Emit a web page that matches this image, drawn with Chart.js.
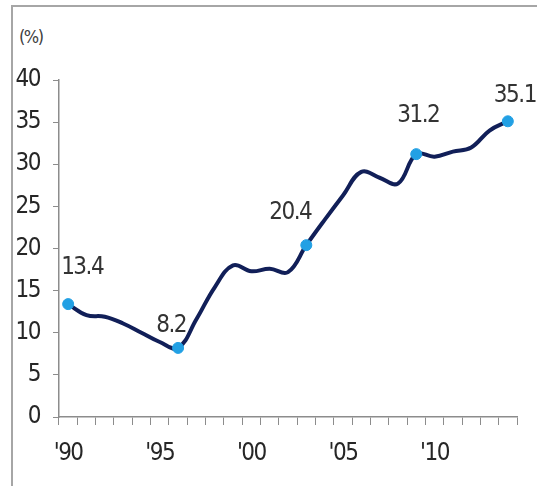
<!DOCTYPE html>
<html>
<head>
<meta charset="utf-8">
<script src="https://cdn.jsdelivr.net/npm/chart.js@4"></script>
<style>
  body { margin: 0; background: #fff; }
  #wrap { position: relative; width: 537px; height: 486px; overflow: hidden; }
  #frame { position: absolute; left: 11px; top: 5px; right: -5px; bottom: -5px;
           border-top: 2px solid #a6a6a6; border-left: 2px solid #a6a6a6; }
  #unit { position: absolute; left: 19px; top: 26px; font: 18px "DejaVu Sans Condensed", sans-serif;
          letter-spacing: -1.5px; color: #404040; line-height: 22px; }
  #chart { position: absolute; left: 0; top: 0; }
</style>
</head>
<body>
<div id="wrap">
  <div id="frame"></div>
  <div id="unit">(%)</div>
  <canvas id="chart" width="537" height="486"></canvas>
</div>
<script>
// yearly share, 1990-2014
let years = [];
for (let y = 1990; y <= 2014; y++) years.push(y);
let shares = [13.4, 12.1, 11.9, 11.1, 10.0, 8.9, 8.2, 11.6, 15.4, 18.0, 17.3, 17.6, 17.2,
              20.4, 23.4, 26.3, 29.1, 28.4, 27.7, 31.2, 30.9, 31.5, 32.0, 34.0, 35.1];
let labelled = [0, 6, 13, 19, 24];
let yTicks = [0, 5, 10, 15, 20, 25, 30, 35, 40];

// nudges for the value labels (dx, dy in px)
let labelNudge = {0: [14, -36], 6: [-7, -22], 13: [-16, -32], 19: [2, -38], 24: [7, -26]};

let font = '"DejaVu Sans Condensed", "Liberation Sans", sans-serif';

// tighter spacing so the condensed face reads narrow
let tightText = {
    id: 'tightText',
    beforeDraw(chart) { chart.ctx.letterSpacing = '-1.5px'; }
};

let valueLabels = {
    id: 'valueLabels',
    afterDatasetsDraw(chart) {
        let ctx = chart.ctx;
        let meta = chart.getDatasetMeta(0);
        ctx.save();
        ctx.font = '24px ' + font;
        ctx.fillStyle = '#333333';
        ctx.textAlign = 'center';
        ctx.textBaseline = 'middle';
        labelled.forEach(i => {
            let p = meta.data[i];
            let n = labelNudge[i];
            ctx.fillText(shares[i].toFixed(1), p.x + n[0], p.y + n[1]);
        });
        ctx.restore();
    }
};

let chart = new Chart(document.getElementById('chart').getContext('2d'), {
    type: 'line',
    data: {
        labels: years,
        datasets: [{
            data: shares,
            borderColor: '#111f58',
            borderWidth: 4,
            tension: 0.4,
            pointRadius: years.map((y, i) => labelled.includes(i) ? 5.5 : 0),
            pointBackgroundColor: '#22a0e4',
            pointBorderColor: '#22a0e4',
            pointBorderWidth: 1
        }]
    },
    options: {
        responsive: false,
        animation: false,
        layout: { padding: { left: 0, right: 20, top: 80, bottom: 0 } },
        plugins: { legend: { display: false }, tooltip: { enabled: false } },
        scales: {
            x: {
                offset: true,
                grid: { offset: true, drawOnChartArea: false, tickLength: 8, color: '#8c8c8c' },
                border: { color: '#8c8c8c', width: 1.5 },
                ticks: {
                    autoSkip: false,
                    maxRotation: 0,
                    padding: 14,
                    color: '#262626',
                    font: { size: 24, family: font },
                    callback: (v, i) => years[i] % 5 === 0 ? "'" + String(years[i]).slice(2) : ''
                },
                afterFit: s => { s.height = 69; }
            },
            y: {
                min: 0,
                max: 40,
                afterBuildTicks: s => { s.ticks = yTicks.map(v => ({ value: v })); },
                grid: { drawOnChartArea: false, tickLength: 6, color: '#8c8c8c' },
                border: { color: '#8c8c8c', width: 1.5 },
                ticks: {
                    padding: 13,
                    color: '#262626',
                    font: { size: 24, family: font }
                },
                afterFit: s => { s.width = 59; }
            }
        }
    },
    plugins: [tightText, valueLabels]
});
</script>
</body>
</html>
